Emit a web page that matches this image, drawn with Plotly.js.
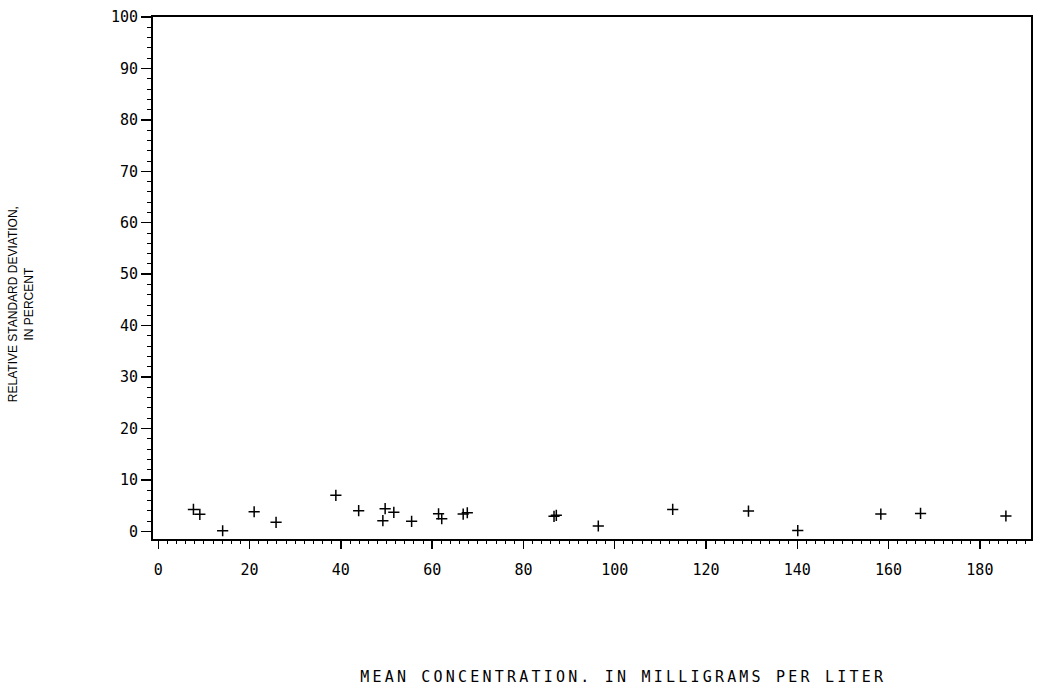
<!DOCTYPE html>
<html>
<head>
<meta charset="utf-8">
<script src="https://cdn.plot.ly/plotly-3.0.1.min.js"></script>
<style>
html,body{margin:0;padding:0;background:#fff;}
#chart{width:1039px;height:694px;}
</style>
</head>
<body>
<div id="chart"></div>
<script>
// Mean concentration (mg/L) and relative standard deviation (%)
var meanConcentration = [7.7, 9.1, 14.1, 21.0, 25.8, 38.9, 43.9, 49.2, 49.7, 51.6, 55.5, 61.4, 62.1, 66.8, 67.7, 86.7, 87.2, 96.4, 112.7, 129.3, 140.1, 158.3, 167.0, 185.7];
var relStdDev = [4.25, 3.3, 0.1, 3.8, 1.74, 7.0, 4.0, 2.07, 4.4, 3.68, 1.93, 3.4, 2.45, 3.35, 3.6, 2.9, 3.1, 1.03, 4.25, 3.93, 0.13, 3.35, 3.48, 2.97];

var xTickVals = [0, 20, 40, 60, 80, 100, 120, 140, 160, 180];
var yTickVals = [0, 10, 20, 30, 40, 50, 60, 70, 80, 90, 100];

var xTitle = "MEAN CONCENTRATION. IN MILLIGRAMS PER LITER";
var yTitle = "RELATIVE STANDARD DEVIATION,<br>IN PERCENT";

var tickFont = {family: "DejaVu Sans Mono, Liberation Mono, monospace", size: 15, color: "#000"};

var trace = {
  x: meanConcentration,
  y: relStdDev,
  type: "scatter",
  mode: "markers",
  marker: {symbol: "cross-thin", size: 8, color: "#000", line: {color: "#000", width: 1.5}},
  hoverinfo: "x+y"
};

var layout = {
  width: 1039,
  height: 694,
  margin: {l: 153, r: 8, t: 17, b: 155, pad: 0},
  paper_bgcolor: "#fff",
  plot_bgcolor: "#fff",
  showlegend: false,
  xaxis: {
    range: [-1.16, 191.2],
    tickmode: "array",
    tickvals: xTickVals,
    ticks: "outside",
    ticklen: 8,
    tickwidth: 1.5,
    tickcolor: "#000",
    ticklabelstandoff: 8,
    minor: {dtick: 2, tick0: 0, ticks: "outside", ticklen: 3, tickwidth: 1, tickcolor: "#000"},
    showline: true,
    linecolor: "#000",
    linewidth: 2,
    mirror: true,
    showgrid: false,
    zeroline: false,
    tickfont: tickFont
  },
  yaxis: {
    range: [-1.5, 100],
    tickmode: "array",
    tickvals: yTickVals,
    ticks: "outside",
    ticklen: 10,
    tickwidth: 1.5,
    tickcolor: "#000",
    minor: {dtick: 2, tick0: 0, ticks: "outside", ticklen: 4, tickwidth: 1, tickcolor: "#000"},
    showline: true,
    linecolor: "#000",
    linewidth: 2,
    mirror: true,
    showgrid: false,
    zeroline: false,
    tickfont: tickFont
  },
  annotations: [
    {
      text: yTitle,
      xref: "paper", yref: "paper",
      x: -0.1503, y: 0.45,
      xanchor: "center", yanchor: "middle",
      textangle: -90,
      showarrow: false,
      align: "center",
      font: {family: "Liberation Sans Narrow, Liberation Sans, Arial, sans-serif", size: 12, color: "#000"}
    },
    {
      text: xTitle,
      xref: "paper", yref: "paper",
      x: 0.536, y: -0.265,
      xanchor: "center", yanchor: "middle",
      showarrow: false,
      font: {family: "DejaVu Sans Mono, Liberation Mono, monospace", size: 15, color: "#000"}
    }
  ]
};

Plotly.newPlot("chart", [trace], layout, {displayModeBar: false, staticPlot: true}).then(function () {
  var texts = document.querySelectorAll(".annotation-text");
  texts.forEach(function (t) {
    if (t.textContent.indexOf("MEAN") === 0) {
      t.style.letterSpacing = "3.2px";
    }
  });
});
</script>
</body>
</html>
